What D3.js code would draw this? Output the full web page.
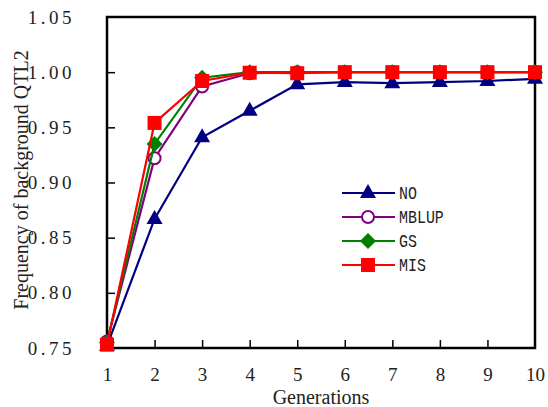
<!DOCTYPE html>
<html>
<head>
<meta charset="utf-8">
<script src="https://cdn.jsdelivr.net/npm/d3@7"></script>
<style>
  body { margin: 0; background: #fff; }
  svg { display: block; }
</style>
</head>
<body>
<div id="container"></div>
<script>
const generations = [1, 2, 3, 4, 5, 6, 7, 8, 9, 10];
const yTicks = [0.75, 0.80, 0.85, 0.90, 0.95, 1.00, 1.05];
const seriesNames = ["NO", "MBLUP", "GS", "MIS"];
const noValues = [0.752, 0.867, 0.941, 0.965, 0.989, 0.991, 0.990, 0.991, 0.992, 0.994];
const mblupValues = [0.756, 0.922, 0.987, 0.999, 1.000, 1.000, 1.000, 1.000, 1.000, 1.000];
const gsValues = [0.755, 0.935, 0.995, 1.000, 1.000, 1.000, 1.000, 1.000, 1.000, 1.000];
const misValues = [0.753, 0.954, 0.992, 0.9995, 0.999, 1.000, 1.000, 1.000, 1.000, 1.000];

function init() {
  const width = 548, height = 407;
  const margin = { left: 107, right: 13, top: 17, bottom: 59 };

  const svg = d3.select("#container").append("svg")
    .attr("width", width)
    .attr("height", height);

  const x = d3.scaleLinear().domain([1, 10]).range([margin.left, width - margin.right]);
  const y = d3.scaleLinear().domain([0.75, 1.05]).range([height - margin.bottom, margin.top]);

  const series = [
    { name: seriesNames[0], values: noValues, color: "#000080", shape: "triangle" },
    { name: seriesNames[1], values: mblupValues, color: "#800080", shape: "circle" },
    { name: seriesNames[2], values: gsValues, color: "#008000", shape: "diamond" },
    { name: seriesNames[3], values: misValues, color: "#ff0000", shape: "square" }
  ];

  // frame
  svg.append("rect")
    .attr("x", x(1)).attr("y", y(1.05))
    .attr("width", x(10) - x(1)).attr("height", y(0.75) - y(1.05))
    .attr("fill", "none").attr("stroke", "#000").attr("stroke-width", 2.5);

  // axes, ticks pointing inward
  const xAxis = d3.axisBottom(x).tickValues(generations).tickSize(-8).tickPadding(20)
    .tickFormat(d3.format("d"));
  const gx = svg.append("g").attr("transform", `translate(0,${y(0.75)})`).call(xAxis);
  gx.select(".domain").remove();
  gx.selectAll(".tick line").attr("stroke-width", 1.5)
    .filter(d => d === 1 || d === 10).remove();
  gx.selectAll("text")
    .attr("font-family", "'Liberation Serif', serif").attr("font-size", 19).attr("fill", "#222");

  const yAxis = d3.axisLeft(y).tickValues(yTicks).tickSize(-8).tickPadding(32)
    .tickFormat(d3.format(".2f"));
  const gy = svg.append("g").attr("transform", `translate(${x(1)},0)`).call(yAxis);
  gy.select(".domain").remove();
  gy.selectAll(".tick line").attr("stroke-width", 1.5)
    .filter(d => d === 0.75 || d === 1.05).remove();
  gy.selectAll("text")
    .attr("font-family", "'Liberation Serif', serif").attr("font-size", 19)
    .attr("letter-spacing", "3.5px").attr("fill", "#222");

  // axis titles
  svg.append("text")
    .attr("x", 321).attr("y", 404)
    .attr("text-anchor", "middle")
    .attr("font-family", "'Liberation Serif', serif").attr("font-size", 20)
    .attr("fill", "#222")
    .text("Generations");
  svg.append("text")
    .attr("transform", "translate(28,180) rotate(-90)")
    .attr("text-anchor", "middle")
    .attr("font-family", "'Liberation Serif', serif").attr("font-size", 20)
    .attr("fill", "#222")
    .text("Frequency of background QTL2");

  const line = d3.line().x((d, i) => x(generations[i])).y(d => y(d));

  function marker(g, s, cx, cy) {
    if (s.shape === "triangle") {
      g.append("path")
        .attr("d", `M${cx},${cy - 9}L${cx + 8},${cy + 5}L${cx - 8},${cy + 5}Z`)
        .attr("fill", s.color);
    } else if (s.shape === "circle") {
      g.append("circle").attr("cx", cx).attr("cy", cy).attr("r", 6)
        .attr("fill", "#fff").attr("stroke", s.color).attr("stroke-width", 2);
    } else if (s.shape === "diamond") {
      g.append("path")
        .attr("d", `M${cx},${cy - 8}L${cx + 8},${cy}L${cx},${cy + 8}L${cx - 8},${cy}Z`)
        .attr("fill", s.color);
    } else {
      g.append("rect").attr("x", cx - 7).attr("y", cy - 7)
        .attr("width", 14).attr("height", 14).attr("fill", s.color);
    }
  }

  series.forEach(s => {
    const g = svg.append("g");
    g.append("path").datum(s.values)
      .attr("d", line)
      .attr("fill", "none").attr("stroke", s.color).attr("stroke-width", 2.2);
    s.values.forEach((v, i) => marker(g, s, x(generations[i]), y(v)));
  });

  // legend
  const legend = svg.append("g");
  series.forEach((s, i) => {
    const ly = 193 + i * 24;
    const g = legend.append("g");
    g.append("line").attr("x1", 342).attr("x2", 395).attr("y1", ly).attr("y2", ly)
      .attr("stroke", s.color).attr("stroke-width", 2.2);
    marker(g, s, 368, ly);
    g.append("text")
      .attr("transform", `translate(399,${ly + 6}) scale(0.83,1)`)
      .attr("font-family", "'Liberation Mono', monospace").attr("font-size", 18)
      .attr("fill", "#222")
      .text(s.name);
  });
}

document.addEventListener("DOMContentLoaded", init);
</script>
</body>
</html>
